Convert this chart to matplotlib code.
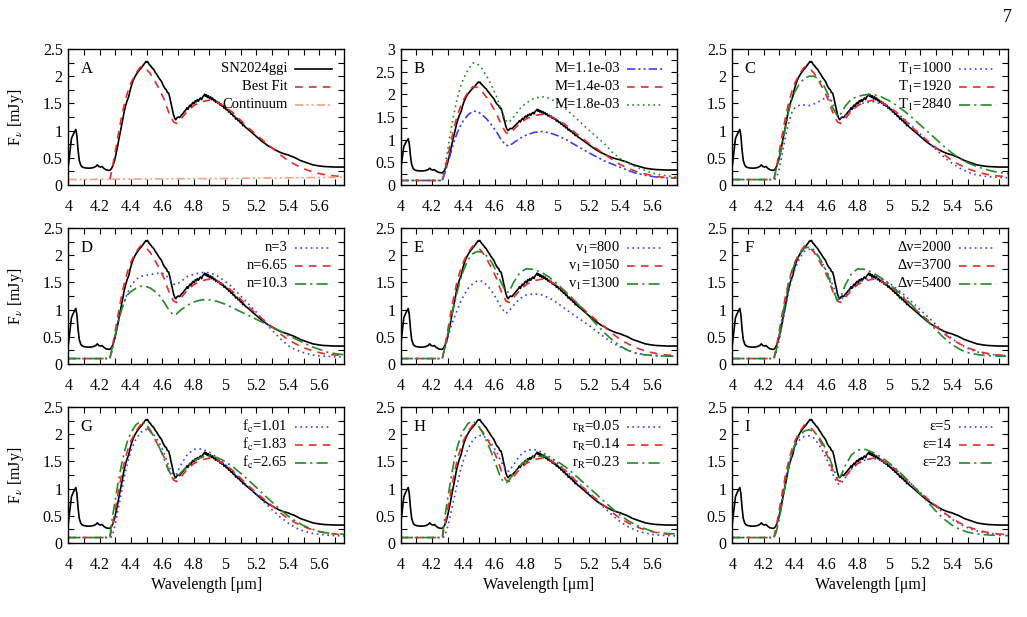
import matplotlib.pyplot as plt
from matplotlib.ticker import MultipleLocator, FormatStrFormatter

plt.rcParams['font.family'] = ['Liberation Serif', 'DejaVu Serif']
plt.rcParams['mathtext.fontset'] = 'stix'
plt.rcParams['lines.scale_dashes'] = False

# observed spectrum SN2024ggi
obs_wl = [4.000, 4.010, 4.020, 4.030, 4.040, 4.048, 4.055, 4.062, 4.070, 4.080,
          4.090, 4.100, 4.120, 4.140, 4.160, 4.175, 4.185, 4.195, 4.205, 4.215,
          4.225, 4.240, 4.255, 4.265, 4.275, 4.285, 4.295, 4.305, 4.315, 4.325,
          4.335, 4.345, 4.355, 4.365, 4.375, 4.385, 4.395, 4.405, 4.415, 4.425,
          4.435, 4.445, 4.455, 4.465, 4.475, 4.485, 4.495, 4.500, 4.505, 4.515,
          4.525, 4.535, 4.545, 4.555, 4.565, 4.575, 4.585, 4.595, 4.605, 4.615,
          4.625, 4.632, 4.640, 4.648, 4.655, 4.663, 4.670, 4.678, 4.685, 4.692,
          4.700, 4.710, 4.720, 4.730, 4.740, 4.750, 4.757, 4.763, 4.770, 4.777,
          4.783, 4.790, 4.797, 4.803, 4.810, 4.817, 4.823, 4.830, 4.837, 4.843,
          4.850, 4.857, 4.863, 4.870, 4.875, 4.880, 4.887, 4.893, 4.900, 4.907,
          4.913, 4.920, 4.927, 4.933, 4.940, 4.947, 4.953, 4.960, 4.967, 4.973,
          4.980, 4.987, 4.993, 5.000, 5.008, 5.015, 5.023, 5.030, 5.038, 5.045,
          5.053, 5.060, 5.068, 5.075, 5.083, 5.090, 5.098, 5.105, 5.113, 5.120,
          5.130, 5.140, 5.160, 5.180, 5.200, 5.220, 5.240, 5.260, 5.280, 5.300,
          5.320, 5.340, 5.360, 5.380, 5.400, 5.420, 5.440, 5.460, 5.480, 5.500,
          5.520, 5.540, 5.560, 5.580, 5.600, 5.630, 5.660, 5.700, 5.760]
obs_flux = [0.35, 0.60, 0.85, 0.92, 0.98, 1.02, 0.90, 0.65, 0.45, 0.36,
            0.33, 0.32, 0.31, 0.31, 0.32, 0.34, 0.37, 0.34, 0.33, 0.34,
            0.31, 0.28, 0.27, 0.27, 0.30, 0.36, 0.45, 0.58, 0.72, 0.88,
            1.02, 1.17, 1.33, 1.45, 1.55, 1.62, 1.75, 1.85, 1.93, 1.99,
            2.04, 2.08, 2.12, 2.15, 2.19, 2.23, 2.27, 2.26, 2.27, 2.22,
            2.19, 2.15, 2.12, 2.07, 2.03, 1.98, 1.94, 1.90, 1.83, 1.78,
            1.75, 1.70, 1.69, 1.60, 1.50, 1.40, 1.30, 1.23, 1.20, 1.23,
            1.25, 1.24, 1.28, 1.31, 1.35, 1.38, 1.42, 1.39, 1.44, 1.47,
            1.44, 1.50, 1.52, 1.49, 1.55, 1.53, 1.57, 1.54, 1.58, 1.60,
            1.57, 1.62, 1.64, 1.67, 1.63, 1.66, 1.61, 1.64, 1.59, 1.62,
            1.57, 1.60, 1.55, 1.57, 1.52, 1.54, 1.50, 1.52, 1.47, 1.49,
            1.45, 1.46, 1.41, 1.43, 1.38, 1.39, 1.34, 1.35, 1.30, 1.31,
            1.26, 1.27, 1.21, 1.23, 1.18, 1.19, 1.14, 1.15, 1.09, 1.10,
            1.06, 1.04, 0.99, 0.94, 0.89, 0.84, 0.79, 0.75, 0.71, 0.68,
            0.645, 0.615, 0.59, 0.57, 0.555, 0.53, 0.51, 0.48, 0.45, 0.43,
            0.41, 0.39, 0.37, 0.36, 0.35, 0.34, 0.335, 0.33, 0.33]

# model wavelength grid
mod_wl = [4.00, 4.10, 4.20, 4.265, 4.28, 4.30, 4.32, 4.34, 4.36, 4.38,
          4.40, 4.43, 4.46, 4.49, 4.52, 4.55, 4.58, 4.61, 4.64, 4.67,
          4.69, 4.72, 4.76, 4.80, 4.85, 4.90, 4.95, 5.00, 5.05, 5.10,
          5.15, 5.20, 5.25, 5.30, 5.35, 5.40, 5.45, 5.50, 5.55, 5.60,
          5.65, 5.70, 5.76]

best_fit = [0.10, 0.10, 0.10, 0.10, 0.30, 0.62, 0.95, 1.26, 1.52, 1.72,
            1.88, 2.05, 2.17, 2.15, 2.06, 1.92, 1.76, 1.58, 1.34, 1.16,
            1.13, 1.22, 1.36, 1.46, 1.53, 1.56, 1.52, 1.44, 1.33, 1.19,
            1.05, 0.92, 0.80, 0.68, 0.56, 0.45, 0.37, 0.30, 0.25, 0.21,
            0.18, 0.165, 0.155]

cont_wl = [4.00, 4.50, 5.00, 5.50, 5.76]
cont_flux = [0.10, 0.11, 0.12, 0.135, 0.145]

m_lo = [0.10, 0.10, 0.10, 0.10, 0.25, 0.48, 0.72, 0.95, 1.15, 1.30,
        1.42, 1.55, 1.63, 1.62, 1.55, 1.45, 1.32, 1.18, 1.00, 0.88,
        0.86, 0.93, 1.03, 1.10, 1.16, 1.18, 1.15, 1.09, 1.01, 0.91,
        0.81, 0.71, 0.62, 0.53, 0.46, 0.39, 0.32, 0.26, 0.22, 0.19,
        0.17, 0.155, 0.15]
m_hi = [0.10, 0.10, 0.10, 0.10, 0.36, 0.78, 1.20, 1.58, 1.90, 2.15,
        2.34, 2.55, 2.69, 2.67, 2.56, 2.39, 2.19, 1.96, 1.66, 1.42,
        1.38, 1.50, 1.68, 1.81, 1.91, 1.95, 1.91, 1.82, 1.69, 1.53,
        1.37, 1.21, 1.06, 0.91, 0.72, 0.58, 0.48, 0.40, 0.33, 0.27,
        0.23, 0.20, 0.18]

t1_lo = [0.10, 0.10, 0.10, 0.10, 0.12, 0.30, 0.60, 0.90, 1.15, 1.33,
         1.42, 1.47, 1.47, 1.46, 1.49, 1.53, 1.58, 1.63, 1.52, 1.27,
         1.23, 1.28, 1.38, 1.47, 1.52, 1.53, 1.49, 1.42, 1.32, 1.20,
         1.07, 0.93, 0.79, 0.65, 0.51, 0.40, 0.31, 0.24, 0.19, 0.165,
         0.15, 0.14, 0.135]
t1_hi = [0.10, 0.10, 0.10, 0.10, 0.30, 0.50, 0.78, 1.07, 1.36, 1.58,
         1.72, 1.87, 1.96, 2.00, 2.00, 1.95, 1.85, 1.67, 1.42, 1.27,
         1.30, 1.45, 1.58, 1.63, 1.66, 1.66, 1.62, 1.55, 1.46, 1.35,
         1.23, 1.10, 0.97, 0.84, 0.71, 0.59, 0.49, 0.41, 0.35, 0.30,
         0.26, 0.23, 0.21]

n_lo = [0.10, 0.10, 0.10, 0.10, 0.25, 0.55, 0.80, 1.00, 1.17, 1.32,
        1.44, 1.55, 1.61, 1.63, 1.64, 1.66, 1.67, 1.66, 1.58, 1.47,
        1.46, 1.52, 1.61, 1.65, 1.68, 1.68, 1.62, 1.52, 1.40, 1.25,
        1.10, 0.95, 0.78, 0.62, 0.47, 0.34, 0.26, 0.21, 0.17, 0.15,
        0.14, 0.135, 0.13]
n_hi = [0.10, 0.10, 0.10, 0.10, 0.30, 0.55, 0.78, 1.00, 1.17, 1.28,
        1.33, 1.39, 1.43, 1.43, 1.40, 1.34, 1.26, 1.14, 1.00, 0.90,
        0.92, 1.00, 1.08, 1.14, 1.18, 1.18, 1.15, 1.10, 1.03, 0.96,
        0.89, 0.82, 0.75, 0.68, 0.61, 0.53, 0.46, 0.39, 0.32, 0.27,
        0.22, 0.19, 0.17]

v1_lo = [0.10, 0.10, 0.10, 0.10, 0.26, 0.48, 0.68, 0.84, 0.99, 1.13,
         1.25, 1.39, 1.48, 1.53, 1.52, 1.45, 1.34, 1.20, 1.04, 0.93,
         0.97, 1.08, 1.20, 1.27, 1.29, 1.27, 1.21, 1.12, 1.01, 0.91,
         0.81, 0.71, 0.60, 0.49, 0.39, 0.31, 0.25, 0.20, 0.175, 0.16,
         0.15, 0.145, 0.14]
v1_hi = [0.10, 0.10, 0.10, 0.10, 0.28, 0.55, 0.82, 1.08, 1.32, 1.55,
         1.72, 1.92, 2.03, 2.07, 2.05, 1.98, 1.87, 1.70, 1.50, 1.33,
         1.32, 1.50, 1.68, 1.75, 1.74, 1.68, 1.59, 1.47, 1.33, 1.19,
         1.04, 0.88, 0.72, 0.57, 0.44, 0.33, 0.25, 0.20, 0.17, 0.16,
         0.15, 0.145, 0.14]

dv_lo = [0.10, 0.10, 0.10, 0.10, 0.20, 0.45, 0.75, 1.05, 1.33, 1.57,
         1.75, 1.95, 2.07, 2.11, 2.07, 1.96, 1.82, 1.66, 1.45, 1.23,
         1.18, 1.25, 1.39, 1.49, 1.56, 1.59, 1.56, 1.49, 1.38, 1.26,
         1.13, 0.99, 0.86, 0.72, 0.59, 0.47, 0.37, 0.29, 0.23, 0.195,
         0.175, 0.16, 0.155]
dv_hi = [0.10, 0.10, 0.10, 0.10, 0.25, 0.55, 0.88, 1.20, 1.48, 1.70,
         1.86, 2.03, 2.13, 2.15, 2.10, 1.98, 1.82, 1.63, 1.37, 1.17,
         1.22, 1.45, 1.66, 1.75, 1.74, 1.67, 1.58, 1.47, 1.35, 1.21,
         1.07, 0.92, 0.77, 0.62, 0.48, 0.36, 0.27, 0.21, 0.18, 0.16,
         0.15, 0.145, 0.14]

fc_lo = [0.10, 0.10, 0.10, 0.10, 0.12, 0.35, 0.65, 0.95, 1.25, 1.50,
         1.70, 1.90, 2.03, 2.09, 2.07, 1.97, 1.84, 1.66, 1.42, 1.25,
         1.27, 1.45, 1.63, 1.72, 1.73, 1.67, 1.57, 1.45, 1.31, 1.17,
         1.03, 0.89, 0.75, 0.61, 0.48, 0.37, 0.28, 0.22, 0.18, 0.16,
         0.145, 0.135, 0.13]
fc_hi = [0.10, 0.10, 0.10, 0.10, 0.45, 0.80, 1.15, 1.45, 1.70, 1.90,
         2.03, 2.17, 2.23, 2.20, 2.09, 1.93, 1.76, 1.56, 1.33, 1.19,
         1.20, 1.30, 1.42, 1.51, 1.58, 1.60, 1.57, 1.50, 1.40, 1.28,
         1.15, 1.02, 0.88, 0.75, 0.62, 0.50, 0.40, 0.32, 0.26, 0.21,
         0.185, 0.17, 0.16]

rr_lo = [0.10, 0.10, 0.10, 0.10, 0.12, 0.30, 0.55, 0.82, 1.08, 1.32,
         1.52, 1.74, 1.89, 1.97, 1.98, 1.92, 1.82, 1.68, 1.50, 1.34,
         1.32, 1.44, 1.61, 1.70, 1.72, 1.67, 1.58, 1.47, 1.34, 1.20,
         1.06, 0.92, 0.78, 0.64, 0.51, 0.39, 0.30, 0.23, 0.19, 0.16,
         0.145, 0.135, 0.13]
rr_hi = [0.10, 0.10, 0.10, 0.10, 0.45, 0.82, 1.18, 1.50, 1.75, 1.94,
         2.07, 2.20, 2.24, 2.18, 2.04, 1.86, 1.65, 1.42, 1.18, 1.10,
         1.15, 1.28, 1.42, 1.51, 1.58, 1.60, 1.57, 1.50, 1.40, 1.28,
         1.15, 1.02, 0.89, 0.76, 0.63, 0.51, 0.41, 0.33, 0.27, 0.22,
         0.19, 0.175, 0.165]

eps_lo = [0.10, 0.10, 0.10, 0.10, 0.22, 0.50, 0.85, 1.18, 1.45, 1.65,
          1.78, 1.90, 1.96, 1.97, 1.93, 1.82, 1.67, 1.49, 1.27, 1.09,
          1.08, 1.20, 1.36, 1.46, 1.53, 1.55, 1.52, 1.44, 1.33, 1.20,
          1.06, 0.93, 0.80, 0.67, 0.55, 0.44, 0.35, 0.28, 0.23, 0.195,
          0.175, 0.16, 0.155]
eps_hi = [0.10, 0.10, 0.10, 0.10, 0.20, 0.45, 0.78, 1.10, 1.40, 1.65,
          1.82, 1.98, 2.06, 2.08, 2.05, 1.96, 1.82, 1.64, 1.40, 1.20,
          1.22, 1.42, 1.62, 1.71, 1.72, 1.66, 1.58, 1.47, 1.35, 1.21,
          1.06, 0.90, 0.74, 0.58, 0.44, 0.33, 0.25, 0.20, 0.17, 0.155,
          0.145, 0.14, 0.135]

# couleurs / styles facon gnuplot
RED, BLUE, GREEN, BLACK, ORANGE = '#f02828', '#3c3cff', '#238b23', 'black', '#ff9f7a'
DOT = (0, (1.2, 2.6))
DASH = (0, (5.5, 4.5))
DASHDOT = (0, (8, 3, 1.5, 3))
DASHDOT2 = (0, (6, 2.2, 1.5, 2.2, 1.5, 2.2))

# (lettre, ymax, [(y, label, couleur, style)])
panels = [
    ('A', 2.5, [(best_fit, 'Best Fit', RED, DASH)]),
    ('B', 3.0, [(m_lo, 'M=1.1e-03', BLUE, DASHDOT2), (best_fit, 'M=1.4e-03', RED, DASH),
                (m_hi, 'M=1.8e-03', GREEN, DOT)]),
    ('C', 2.5, [(t1_lo, 'T$_1$=1000', BLUE, DOT), (best_fit, 'T$_1$=1920', RED, DASH),
                (t1_hi, 'T$_1$=2840', GREEN, DASHDOT)]),
    ('D', 2.5, [(n_lo, 'n=3', BLUE, DOT), (best_fit, 'n=6.65', RED, DASH),
                (n_hi, 'n=10.3', GREEN, DASHDOT)]),
    ('E', 2.5, [(v1_lo, 'v$_1$=800', BLUE, DOT), (best_fit, 'v$_1$=1050', RED, DASH),
                (v1_hi, 'v$_1$=1300', GREEN, DASHDOT)]),
    ('F', 2.5, [(dv_lo, 'Δv=2000', BLUE, DOT), (best_fit, 'Δv=3700', RED, DASH),
                (dv_hi, 'Δv=5400', GREEN, DASHDOT)]),
    ('G', 2.5, [(fc_lo, 'f$_\\mathrm{c}$=1.01', BLUE, DOT), (best_fit, 'f$_\\mathrm{c}$=1.83', RED, DASH),
                (fc_hi, 'f$_\\mathrm{c}$=2.65', GREEN, DASHDOT)]),
    ('H', 2.5, [(rr_lo, 'r$_\\mathrm{R}$=0.05', BLUE, DOT), (best_fit, 'r$_\\mathrm{R}$=0.14', RED, DASH),
                (rr_hi, 'r$_\\mathrm{R}$=0.23', GREEN, DASHDOT)]),
    ('I', 2.5, [(eps_lo, 'ε=5', BLUE, DOT), (best_fit, 'ε=14', RED, DASH),
                (eps_hi, 'ε=23', GREEN, DASHDOT)]),
]

fig = plt.figure(figsize=(10.27, 6.17), dpi=100)
lefts = [68.3 / 1027, 400.7 / 1027, 732.3 / 1027]
bottoms = [1 - 185 / 617, 1 - 364 / 617, 1 - 543 / 617]
w, h = 276 / 1027, 136 / 617
fs = 11.5

for k, (lettre, ymax, courbes) in enumerate(panels):
    row, col = divmod(k, 3)
    ax = fig.add_axes([lefts[col], bottoms[row], w, h])
    ax.set_xlim(4, 5.76)
    ax.set_ylim(0, ymax)

    ax.plot(obs_wl, obs_flux, color=BLACK, lw=1.2)
    legende = [('SN2024ggi', BLACK, '-')] if lettre == 'A' else []
    for y, lab, c, ls in courbes:
        if lettre == 'A':
            ax.plot(mod_wl[3:], y[3:], color=c, ls=ls, lw=1.2)
        else:
            ax.plot(mod_wl, y, color=c, ls=ls, lw=1.2)
        legende.append((lab, c, ls))
    if lettre == 'A':
        ax.plot(cont_wl, cont_flux, color=ORANGE, ls=DASHDOT2, lw=1.2)
        legende.append(('Continuum', ORANGE, DASHDOT2))

    # legende a la gnuplot : texte aligne a droite, echantillon a droite
    for i, (lab, c, ls) in enumerate(legende):
        yy = 0.855 - i * 0.132
        ax.text(0.795, yy, lab, transform=ax.transAxes, ha='right', va='center', fontsize=10.5)
        ax.plot([0.82, 0.955], [yy, yy], transform=ax.transAxes, color=c, ls=ls, lw=1.2)

    ax.text(0.045, 0.855, lettre, transform=ax.transAxes, ha='left', va='center', fontsize=12)

    ax.xaxis.set_major_locator(MultipleLocator(0.2))
    ax.xaxis.set_minor_locator(MultipleLocator(0.1))
    ax.yaxis.set_major_locator(MultipleLocator(0.5))
    ax.yaxis.set_minor_locator(MultipleLocator(0.25))
    ax.xaxis.set_major_formatter(FormatStrFormatter('%g'))
    ax.yaxis.set_major_formatter(FormatStrFormatter('%g'))
    ax.tick_params(which='both', direction='in', top=True, right=True, length=4, width=0.8)
    ax.tick_params(axis='x', which='major', pad=10, labelsize=fs)
    ax.tick_params(axis='y', which='major', pad=4, labelsize=fs)
    for s in ax.spines.values():
        s.set_linewidth(1.0)

    if col == 0:
        ax.set_ylabel('F$_\\nu$ [mJy]', fontsize=fs, labelpad=12)
    if row == 2:
        ax.set_xlabel('Wavelength [μm]', fontsize=fs, labelpad=3)

fig.text(0.981, 0.972, '7', fontsize=13, ha='center', va='center')

fig.savefig('out.png', dpi=100)
